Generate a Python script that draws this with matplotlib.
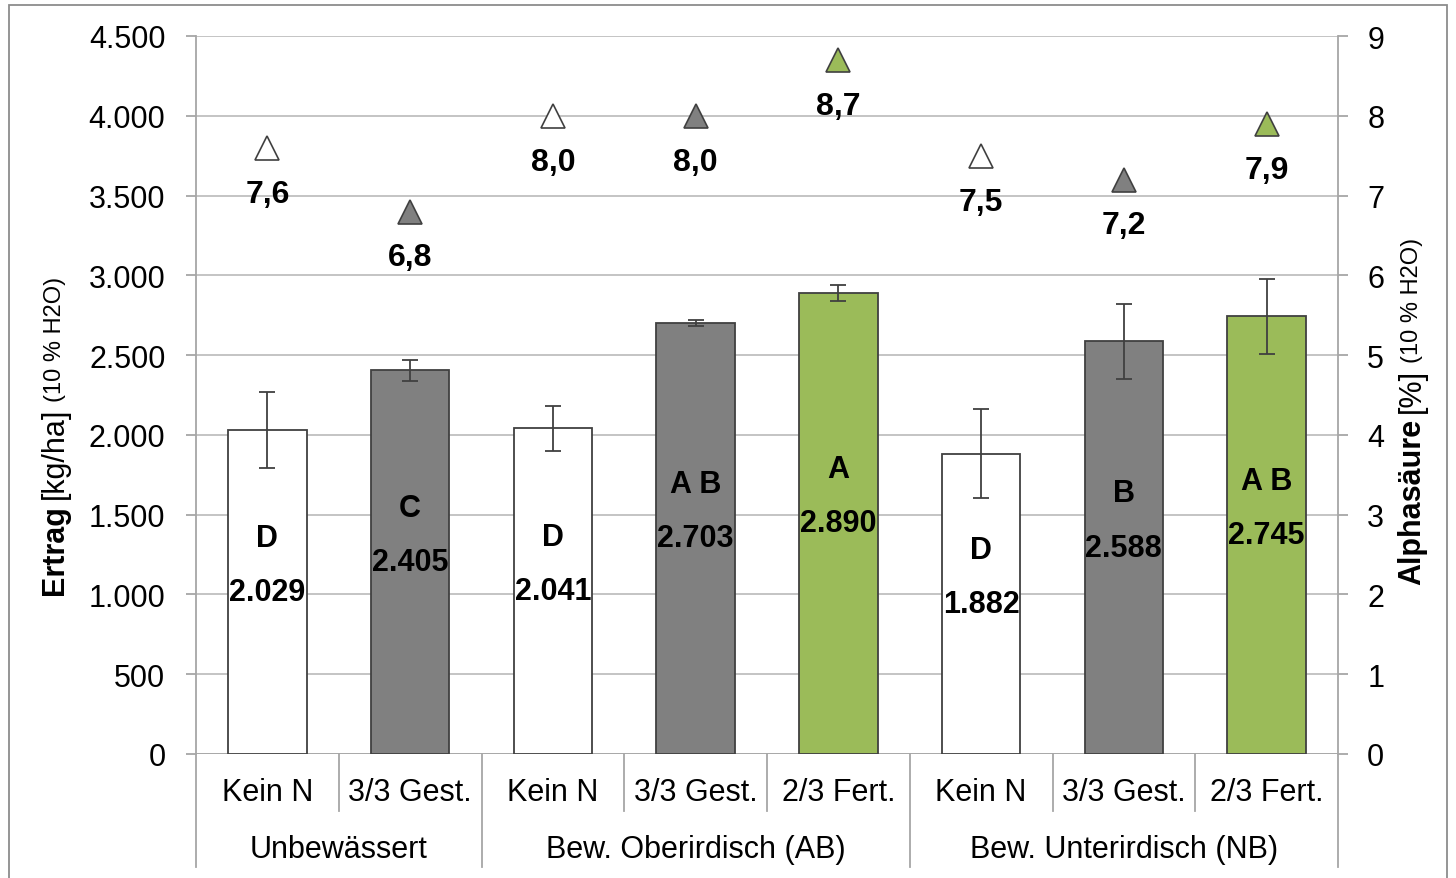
import matplotlib
matplotlib.use('Agg')
import matplotlib.pyplot as plt
from matplotlib.ticker import FuncFormatter
from matplotlib.lines import Line2D
from matplotlib.patches import Rectangle
import numpy as np

plt.rcParams['font.family'] = ['Liberation Sans', 'DejaVu Sans']

# yield per treatment, kg/ha (10 % H2O)
categories = ['Kein N', '3/3 Gest.', 'Kein N', '3/3 Gest.', '2/3 Fert.', 'Kein N', '3/3 Gest.', '2/3 Fert.']
groups = ['Unbewässert', 'Bew. Oberirdisch (AB)', 'Bew. Unterirdisch (NB)']
group_sizes = [2, 3, 3]
ertrag = [2029, 2405, 2041, 2703, 2890, 1882, 2588, 2745]
ertrag_err = [237, 65, 140, 20, 50, 280, 235, 235]
letters = ['D', 'C', 'D', 'A B', 'A', 'D', 'B', 'A B']
# alpha acid content, %
alpha = [7.6, 6.8, 8.0, 8.0, 8.7, 7.5, 7.2, 7.9]

WHITE, GREY, GREEN = '#FFFFFF', '#808080', '#9BBB59'
colors = [WHITE, GREY, WHITE, GREY, GREEN, WHITE, GREY, GREEN]
EDGE = '#404040'
FS = 22

fig = plt.figure(figsize=(14.56, 8.79), dpi=100)
ax = fig.add_axes([196/1456, 1-755/879, (1338-196)/1456, (755-37)/879])
x = np.arange(len(ertrag))

ax.bar(x, ertrag, width=0.55, color=colors, edgecolor=EDGE, linewidth=1.3, zorder=3)
ax.errorbar(x, ertrag, yerr=ertrag_err, fmt='none', ecolor=EDGE, elinewidth=1.3,
            capsize=6, capthick=1.3, zorder=4)

for i, v in enumerate(ertrag):
    lab = '{:,}'.format(v).replace(',', '.')
    ax.text(i, v/2, lab, ha='center', va='center', fontsize=FS, fontweight='bold', zorder=5)
    ax.annotate(letters[i], (i, v/2), xytext=(0, 39), textcoords='offset points',
                ha='center', va='center', fontsize=FS, fontweight='bold', zorder=5)

ax.set_xlim(-0.5, len(ertrag)-0.5)
ax.set_ylim(0, 4500)
ax.set_yticks(np.arange(0, 4501, 500))
ax.yaxis.set_major_formatter(FuncFormatter(lambda v, p: '{:,.0f}'.format(v).replace(',', '.')))
ax.grid(axis='y', color='#BFBFBF', linewidth=1.3, zorder=0)
ax.set_axisbelow(True)
ax.set_xticks([])
for s in ['top', 'right', 'bottom']:
    ax.spines[s].set_visible(False)
ax.spines['left'].set_color('#A6A6A6')
ax.spines['left'].set_linewidth(1.3)
ax.tick_params(axis='y', length=7, width=1.3, color='#A6A6A6', pad=15, labelsize=FS)

# right axis for alpha acid
ax2 = ax.twinx()
ax2.set_ylim(0, 9)
ax2.set_yticks(range(0, 10))
for s in ['top', 'left', 'bottom']:
    ax2.spines[s].set_visible(False)
ax2.spines['right'].set_color('#A6A6A6')
ax2.spines['right'].set_linewidth(1.3)
ax2.tick_params(axis='y', length=7, width=1.3, color='#A6A6A6', pad=14, labelsize=FS)
for i, a in enumerate(alpha):
    ax2.plot(i, a, marker='^', markersize=17, markerfacecolor=colors[i],
             markeredgecolor=EDGE, markeredgewidth=1.2, linestyle='none', zorder=6)
    ax2.annotate(str(a).replace('.', ','), (i, a), xytext=(0, -33), textcoords='offset points',
                 ha='center', va='center', fontsize=23, fontweight='bold')

# bottom baseline and category table
ax.axhline(0, color='#A6A6A6', linewidth=1.3, zorder=2)
trans = ax.get_xaxis_transform()
bounds = np.cumsum([0] + group_sizes)
for k in range(len(ertrag)+1):
    depth = -0.157 if k in bounds else -0.079
    ax.add_line(Line2D([k-0.5, k-0.5], [0, depth], transform=trans, color='#A6A6A6',
                       linewidth=1.3, clip_on=False))
for i, c in enumerate(categories):
    ax.text(i, -0.053, c, transform=trans, ha='center', va='center', fontsize=FS)
for g, name in enumerate(groups):
    mid = (bounds[g] + bounds[g+1] - 1) / 2
    ax.text(mid, -0.132, name, transform=trans, ha='center', va='center', fontsize=FS)

# axis titles made of mixed-weight pieces
fig.canvas.draw()
renderer = fig.canvas.get_renderer()

def stacked_label(xpix, ypix, parts):
    y = ypix
    for txt, weight, size in parts:
        t = fig.text(xpix/1456, 1 - y/879, txt, rotation=90, ha='center', va='bottom',
                     fontsize=size, fontweight=weight)
        bb = t.get_window_extent(renderer)
        y = 879 - bb.y1 - 6

stacked_label(55, 595, [('Ertrag', 'bold', FS), ('[kg/ha]', 'normal', FS), ('(10 % H2O)', 'normal', 17)])
stacked_label(1412, 585, [('Alphasäure', 'bold', FS), ('[%]', 'normal', FS), ('(10 % H2O)', 'normal', 17)])

fig.patches.append(Rectangle((9/1456, -0.01), (1447-9)/1456, 1 - 6/879 + 0.01, transform=fig.transFigure,
                             fill=False, edgecolor='#8C8C8C', linewidth=1.3))

fig.savefig('out.png', dpi=100)
